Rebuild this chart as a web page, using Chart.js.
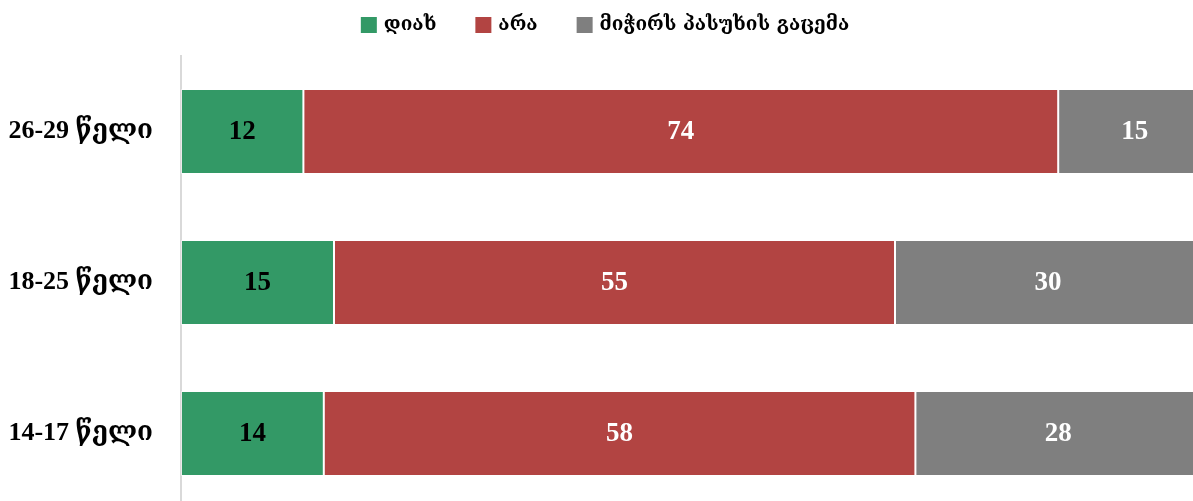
<!DOCTYPE html>
<html>
<head>
<meta charset="utf-8">
<script src="https://cdn.jsdelivr.net/npm/chart.js@4/dist/chart.umd.min.js"></script>
<style>
  html, body { margin: 0; padding: 0; background: #fff; overflow: hidden; }
  #wrap { width: 1193px; height: 501px; overflow: hidden; position: relative; }
  #main-chart { position: absolute; left: 0; top: 0; }
</style>
</head>
<body>
<div id="wrap"><canvas id="main-chart" width="1210" height="512"></canvas></div>
<script>
const categories = ['26-29 წელი', '18-25 წელი', '14-17 წელი'];
const seriesNames = ['დიახ', 'არა', 'მიჭირს პასუხის გაცემა'];
const yesValues = [12, 15, 14];
const noValues = [74, 55, 58];
const dkValues = [15, 30, 28];

const COLORS = ['#339966', '#b24442', '#7f7f7f'];
const LABEL_COLORS = ['#000', '#fff', '#fff'];
const FONT = '"Liberation Serif", "DejaVu Serif", serif';

// value labels in the middle of each segment
const barLabels = {
  id: 'barLabels',
  afterDatasetsDraw(chart) {
    const ctx = chart.ctx;
    ctx.save();
    ctx.font = 'bold 27px ' + FONT;
    ctx.textAlign = 'center';
    ctx.textBaseline = 'middle';
    chart.data.datasets.forEach((ds, i) => {
      chart.getDatasetMeta(i).data.forEach((bar, j) => {
        const p = bar.getCenterPoint();
        ctx.fillStyle = LABEL_COLORS[i];
        ctx.fillText(String(ds.data[j]), p.x, p.y + 1);
      });
    });
    ctx.restore();
  }
};

// legend drawn by hand so the spacing matches (box, small gap, text, wide gap)
const topLegend = {
  id: 'topLegend',
  afterDraw(chart) {
    const ctx = chart.ctx;
    const box = 16, gap = 7, space = 39, cy = 25;
    ctx.save();
    ctx.font = 'bold 19px "DejaVu Serif", serif';
    ctx.textBaseline = 'middle';
    const widths = chart.data.datasets.map(ds => box + gap + ctx.measureText(ds.label).width);
    const total = widths.reduce((a, b) => a + b, 0) + space * (widths.length - 1);
    let x = chart.width / 2 - total / 2;
    chart.data.datasets.forEach((ds, i) => {
      ctx.fillStyle = ds.backgroundColor;
      ctx.fillRect(x, cy - box / 2, box, box);
      ctx.fillStyle = '#000';
      ctx.fillText(ds.label, x + box + gap, cy);
      x += widths[i] + space;
    });
    ctx.restore();
  }
};

const datasets = [yesValues, noValues, dkValues].map((vals, i) => ({
  label: seriesNames[i],
  data: vals,
  backgroundColor: COLORS[i],
  borderColor: 'rgba(255,255,255,0.45)',
  borderWidth: 1,
  borderSkipped: false,
  categoryPercentage: 1,
  barPercentage: 0.563,
}));

new Chart(document.getElementById('main-chart'), {
  type: 'bar',
  data: { labels: categories, datasets },
  plugins: [barLabels, topLegend],
  options: {
    indexAxis: 'y',
    responsive: false,
    animation: false,
    layout: { padding: { left: 0, right: 9, top: 56, bottom: 3 } },
    plugins: {
      tooltip: { enabled: false },
      legend: { display: false }
    },
    scales: {
      x: { stacked: true, display: false, min: 0, max: 100 },
      y: {
        stacked: true,
        grid: { display: false, drawTicks: false },
        border: { color: '#d9d9d9', width: 2 },
        // fixed axis width; drop the label padding chart.js adds above/below
        afterFit: s => { s.width = 181; s.paddingTop = 0; s.paddingBottom = 0; },
        ticks: {
          color: '#000', padding: 28,
          font: { family: FONT, size: 26, weight: 'bold' }
        }
      }
    }
  }
});
</script>
</body>
</html>
